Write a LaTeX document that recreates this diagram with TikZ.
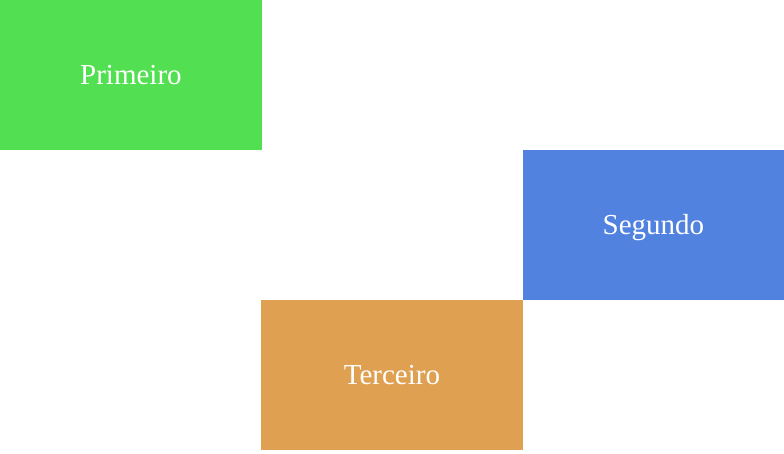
\documentclass[tikz,border=0pt]{standalone}
\usepackage{fontspec}
\setmainfont{Liberation Serif}
\definecolor{cgreen}{HTML}{52DF52}
\definecolor{cblue}{HTML}{5282DF}
\definecolor{corange}{HTML}{DFA052}
\begin{document}
\begin{tikzpicture}[x=1pt,y=-1pt,
  box/.style={draw=none,minimum width=261.5pt,minimum height=150pt,inner sep=0pt,anchor=north west,text=white,text height=19pt,text depth=0pt,font=\fontsize{29}{34}\selectfont}]
\useasboundingbox (0,0) rectangle (784,454);
\node[box,fill=cgreen] (p) at (0,0) {Primeiro};
\node[box,fill=cblue] (s) at (522.5,150) {Segundo};
\node[box,fill=corange] (t) at (261,300) {Terceiro};
\end{tikzpicture}
\end{document}
